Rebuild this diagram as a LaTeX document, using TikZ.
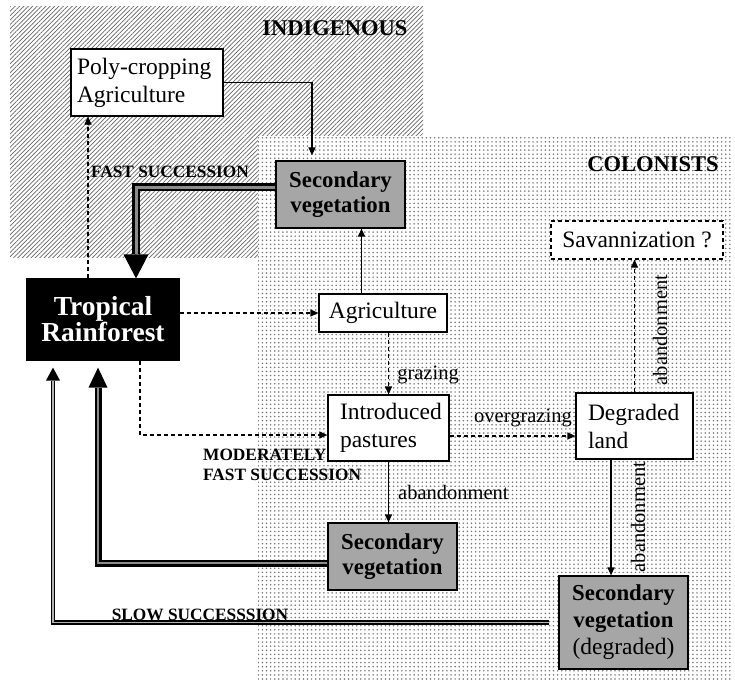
\documentclass[tikz,border=0pt]{standalone}
\usepackage{fontspec}
\setmainfont{Liberation Serif}
\usetikzlibrary{arrows.meta,patterns.meta,calc,positioning}

\begin{document}
\begin{tikzpicture}
	[x=1pt,y=-1pt,
	every node/.style={inner sep=0pt,font=\fontsize{23.5}{28}\selectfont},
	box/.style={draw,fill=white,line width=1.2pt,minimum height=66pt},
	leftbox/.style={box,align=left,inner xsep=#1},
	secbox/.style={box,fill=black!35,align=center,minimum width=129pt,
		font=\bfseries\fontsize{22.8}{25}\selectfont},
	lbl/.style={font=\fontsize{20.5}{22}\selectfont},
	caps/.style={font=\bfseries\fontsize{17.3}{20}\selectfont},
	area/.style={font=\bfseries\fontsize{22.5}{24}\selectfont},
	thinarrow/.style={line width=1.2pt,-{Triangle[length=8pt,width=7pt]}},
	dashedline/.style={dash pattern=on 4pt off 3pt}]
	\useasboundingbox (0,0) rectangle (735,679);

	% the two zones
	\fill[pattern={Lines[angle=45,distance=3.1pt,line width=0.7pt]},pattern color=black!60]
		(10,7) rectangle (423,257);
	\fill[white] (258,136) rectangle (733,679);
	\fill[pattern={Dots[distance=4.1pt,radius=0.85pt]},pattern color=black!55]
		(258,136) rectangle (733,679);
	\node[area] (indig) at (335,28) {INDIGENOUS};
	\node[area] (colon) at (653,164) {COLONISTS};

	% boxes
	\node[leftbox=6pt,text width=140pt,minimum height=67pt] (poly) at (147,82.5) {Poly-cropping\\Agriculture};
	\node[secbox,minimum height=67pt] (sec1) at (340.5,194.5) {Secondary\\vegetation};
	\node[box,fill=black,text=white,minimum width=152pt,minimum height=81pt,align=center,
		font=\bfseries\fontsize{27.5}{26}\selectfont] (trop) at (103,319.5) {Tropical\\Rainforest};
	\node[box,minimum width=128pt,minimum height=38pt] (agri) at (383,313) {Agriculture};
	\node[leftbox=12pt,text width=97pt] (intro) at (388.5,428) {Introduced\\pastures};
	\node[leftbox=12pt,text width=93pt] (degr) at (634.5,426) {Degraded\\land};
	\node[box,dashedline,minimum width=172pt,minimum height=38pt] (sav) at (637,240) {Savannization ?};
	\node[secbox,minimum height=67pt] (sec2) at (392.5,556.5) {Secondary\\vegetation};
	\node[secbox,minimum height=93pt,font=\bfseries\fontsize{22.8}{27}\selectfont] (sec3) at (623.5,622.5)
		{Secondary\\vegetation\\{\mdseries\fontsize{23.5}{27}\selectfont(degraded)}};

	% labels
	\node[caps] (fast) at (170,172) {FAST SUCCESSION};
	\node[caps,align=left,anchor=north west] (modfast) at (203,449) {MODERATELY\\FAST SUCCESSION};
	\node[caps] (slow) at (200,615) {SLOW SUCCESSSION};
	\node[lbl] (lgraz) at (428,375) {grazing};
	\node[lbl,anchor=west] (laban) at (398,492) {abandonment};
	\node[lbl] (lover) at (523,418) {overgrazing};
	\node[lbl,rotate=90] (labsav) at (660,330) {abandonment};
	\node[lbl,rotate=90] (labdeg) at (638,517) {abandonment};

	% thin connectors
	\draw[thinarrow,shorten >=5pt] (poly.east) -| ([xshift=-28.5pt]sec1.north);
	\draw[thinarrow] ([xshift=-21.5pt]agri.north) -- ([xshift=-21.5pt]agri.north |- sec1.south);
	\draw[thinarrow,dashedline] (trop.east |- agri.west) -- (agri.west);
	\draw[thinarrow,dashedline] ([xshift=-15pt]trop.north) -- ([xshift=-15pt]trop.north |- poly.south);
	\draw[thinarrow,dashedline] ([xshift=37pt]trop.south) |- ([yshift=-7pt]intro.west);
	\draw[thinarrow,dashedline] (agri.south -| intro.north) -- (intro.north);
	\draw[thinarrow] (intro.south) -- (intro.south |- sec2.north);
	\draw[thinarrow,dashedline] ([yshift=-8pt]intro.east) -- ([yshift=-8pt]intro.east -| degr.west);
	\draw[thinarrow,dashedline] (degr.north) -- (degr.north |- sav.south);
	\draw[thinarrow] ([xshift=-23.5pt]degr.south) -- ([xshift=-23.5pt]degr.south |- sec3.north);

	% succession back to the forest
	\draw[line width=8.5pt,-{Triangle[length=24pt,width=25pt,line width=0pt]}]
		([yshift=7.5pt]sec1.west) -| ([xshift=33pt]trop.north);
	\draw[line width=3pt,black!45,shorten >=24pt]
		([yshift=7.5pt]sec1.west) -| ([xshift=33pt]trop.north);
	\draw[line width=7pt,shorten >=7pt,-{Triangle[length=20pt,width=19pt,line width=0pt]}]
		([yshift=-6.5pt]sec2.west) -| ([xshift=-5pt]trop.south);
	\draw[line width=1.5pt,black!45,shorten >=27pt]
		([yshift=-6.5pt]sec2.west) -| ([xshift=-5pt]trop.south);
	\draw[line width=4.5pt,shorten <=9pt,shorten >=7pt,-{Triangle[length=13pt,width=14pt,line width=0pt]}]
		(sec3.west) -| ([xshift=-50pt]trop.south);
	\draw[line width=1.8pt,black!30,shorten <=9pt,shorten >=20pt]
		(sec3.west) -| ([xshift=-50pt]trop.south);
\end{tikzpicture}
\end{document}
